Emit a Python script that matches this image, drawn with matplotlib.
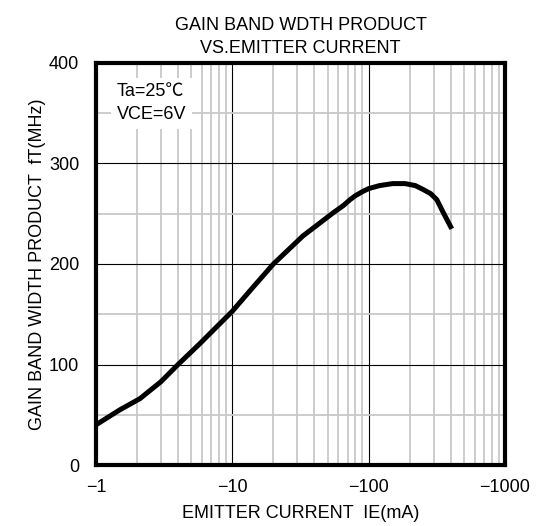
"""GAIN BAND WIDTH PRODUCT vs EMITTER CURRENT"""

import numpy as np
import matplotlib
matplotlib.use('Agg')
import matplotlib.pyplot as plt
from matplotlib.ticker import LogLocator, NullFormatter, FixedLocator

plt.rcParams['font.family'] = ['Liberation Sans', 'Noto Sans CJK JP', 'DejaVu Sans']

## データ (IE は絶対値で持つ)
ie_ma = [1.0, 1.5, 2.1, 3.0, 4.0, 5.8, 10, 14, 20, 33, 55, 65, 73, 80, 90, 100,
         120, 150, 185, 220, 252, 285, 316, 350, 407]
ft_mhz = [40, 55, 66, 83, 100, 121, 153, 176, 200, 228, 251, 258, 264, 268, 272, 275,
          278, 280, 280, 278, 274, 270, 264, 252, 235]

xticks = [1, 10, 100, 1000]
xticklabels = ['\u22121', '\u221210', '\u2212100', '\u22121000']
yticks = [0, 100, 200, 300, 400]

## 描画
fig = plt.figure(figsize=(5.37, 5.26), dpi=100)
ax = fig.add_axes([96/537, 1-465/526, 409/537, 402/526])

ax.set_xscale('log')
ax.set_xlim(1, 1000)
ax.set_ylim(0, 400)

# grid
ax.xaxis.set_minor_locator(LogLocator(base=10, subs=np.arange(2, 10)))
ax.xaxis.set_minor_formatter(NullFormatter())
ax.yaxis.set_minor_locator(FixedLocator([50, 150, 250, 350]))
ax.grid(which='minor', color='#c8c8c8', lw=1.3)
ax.grid(which='major', color='black', lw=0.8)
ax.set_axisbelow(True)

ax.plot(ie_ma, ft_mhz, color='black', lw=3.6, solid_capstyle='butt',
        solid_joinstyle='round', zorder=3)

ax.set_xticks(xticks)
ax.set_xticklabels(xticklabels)
ax.set_yticks(yticks)
ax.tick_params(which='both', length=0, labelsize=13)
ax.tick_params(axis='y', pad=12)
ax.tick_params(axis='x', pad=10)

for sp in ax.spines.values():
    sp.set_linewidth(3)
    sp.set_zorder(5)

ax.text(0.05, 0.95, 'Ta=25\u2103\nVCE=6V', transform=ax.transAxes, fontsize=13,
        va='top', ha='left', linespacing=1.45,
        bbox=dict(facecolor='white', edgecolor='none', pad=4), zorder=4)

ax.set_title('GAIN BAND WDTH PRODUCT\nVS.EMITTER CURRENT', fontsize=13, pad=7, linespacing=1.5)
ax.set_xlabel('EMITTER CURRENT  IE(mA)', fontsize=13)
ax.set_ylabel('GAIN BAND WIDTH PRODUCT  fT(MHz)', fontsize=13)
ax.xaxis.set_label_coords(0.5, -0.10)
ax.yaxis.set_label_coords(-0.123, 0.5)

fig.savefig('out.png', dpi=100)
